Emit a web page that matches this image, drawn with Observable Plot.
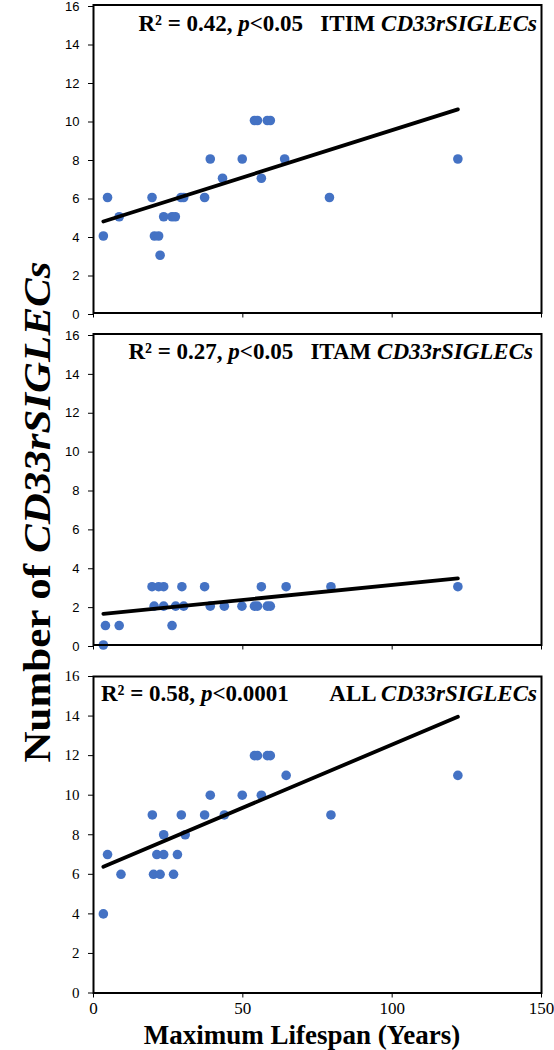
<!DOCTYPE html>
<html>
<head>
<meta charset="utf-8">
<script src="https://cdn.jsdelivr.net/npm/d3@7"></script>
<script src="https://cdn.jsdelivr.net/npm/@observablehq/plot@0.6"></script>
<style>
  html, body { margin: 0; padding: 0; background: #fff; }
  #wrap { position: relative; width: 554px; height: 1050px; overflow: hidden; }
  .panel { position: absolute; left: 0; }
  .ann { position: absolute; font-family: "Liberation Serif", "Times New Roman", serif; font-weight: bold;
         font-size: 23px; line-height: 1; white-space: pre; color: #000; }
  #ytitle { position: absolute; font-family: "Liberation Serif", serif; font-weight: bold; font-size: 43px;
            line-height: 1; white-space: pre; left: 37px; top: 512px; transform: translate(-50%, -50%) rotate(-90deg) scaleY(0.9); }
  #xtitle { position: absolute; font-family: "Liberation Serif", serif; font-weight: bold; font-size: 27px;
            line-height: 1; white-space: pre; left: 302px; top: 1035px; transform: translate(-50%, -50%); }
  svg line { stroke-width: 2; }
</style>
</head>
<body>
<div id="wrap"></div>
<script>
// ITIM CD33rSIGLECs
const itimLifespan = [3.3, 4.7, 8.6, 19.6, 20.4, 21.8, 22.3, 23.5, 26.3, 27.4, 29.3, 30.2, 37.2, 39.1, 43.2, 49.8, 53.9, 54.9, 56.2, 58.2, 59.2, 64.0, 79.0, 122.0];
const itimCount    = [4,   6,   5,   6,    4,    4,    3,    5,    5,    5,    6,    6,    6,    8,    7,    8,    10,   10,   7,    10,   10,   8,    6,    8];
// ITAM CD33rSIGLECs
const itamLifespan = [3.3, 4.0, 8.6, 19.6, 20.3, 21.8, 23.5, 23.5, 26.3, 27.5, 29.6, 30.2, 37.2, 39.1, 43.8, 49.7, 53.9, 54.9, 56.2, 58.2, 59.2, 64.5, 79.5, 122.0];
const itamCount    = [0,   1,   1,   3,    2,    3,    3,    2,    1,    2,    3,    2,    3,    2,    2,    2,    2,    2,    3,    2,    2,    3,    3,    3];
// ALL CD33rSIGLECs
const allLifespan = [3.3, 4.7, 9.2, 19.7, 20.1, 21.2, 22.3, 23.5, 23.5, 26.8, 28.1, 29.4, 30.7, 37.2, 39.1, 43.8, 49.8, 53.9, 54.9, 56.2, 58.2, 59.2, 64.5, 79.5, 122.0];
const allCount    = [4,   7,   6,   9,    6,    7,    6,    8,    7,    6,    7,    9,    8,    9,    10,   9,    10,   12,   12,   10,   12,   12,   11,   9,    11];

const xTicks = [0, 50, 100, 150];
const yTicks = [0, 2, 4, 6, 8, 10, 12, 14, 16];

const toRows = (xs, ys) => xs.map((x, i) => ({x, y: ys[i]}));

function panel({rows, top, marginTop, plotH, marginBottom, showX, yFont}) {
  const height = marginTop + plotH + marginBottom;
  const svg = Plot.plot({
    width: 554,
    height,
    marginLeft: 93,
    marginRight: 13,
    marginTop,
    marginBottom,
    style: {background: "white", color: "black", overflow: "visible"},
    x: {domain: [0, 150]},
    y: {domain: [0, 16]},
    marks: [
      Plot.axisY({ticks: yTicks, tickSize: 5, tickPadding: 9, label: null, stroke: "black",
                  fontSize: yFont.size, fontFamily: yFont.family, dy: yFont.dy || 0}),
      Plot.axisX({ticks: xTicks, tickSize: 5, tickPadding: 4, label: null, stroke: "black",
                  tickFormat: showX ? (d => String(d)) : (() => ""),
                  fontSize: 17, fontFamily: "Liberation Serif, serif"}),
      Plot.dot(rows, {x: "x", y: "y", r: 4.8, fill: "#4472C4", stroke: "none"}),
      Plot.linearRegressionY(rows, {x: "x", y: "y", ci: 0, stroke: "black", strokeWidth: 3.8}),
      Plot.frame({stroke: "black", strokeWidth: 2})
    ]
  });
  svg.classList.add("panel");
  svg.style.top = top + "px";
  // make sure tick label fonts are applied
  d3.select(svg).selectAll('g[aria-label="y-axis tick label"] text').style("font-family", yFont.family).style("font-size", yFont.size + "px");
  d3.select(svg).selectAll('g[aria-label="x-axis tick label"] text').style("font-family", "Liberation Serif, serif").style("font-size", "17px");
  document.getElementById("wrap").appendChild(svg);
}

const sans = {size: 13, family: "Liberation Sans, Arial, sans-serif", dy: 1.5};
panel({rows: toRows(itimLifespan, itimCount), top: 0, marginTop: 4.5, plotH: 308, marginBottom: 8, showX: false, yFont: sans});
panel({rows: toRows(itamLifespan, itamCount), top: 329, marginTop: 4.5, plotH: 311, marginBottom: 8, showX: false, yFont: sans});
panel({rows: toRows(allLifespan, allCount), top: 671, marginTop: 5, plotH: 316.5, marginBottom: 32, showX: true,
       yFont: {size: 15, family: "Liberation Serif, serif"}});

const wrap = document.getElementById("wrap");
function ann(html, pos) {
  const d = document.createElement("div");
  d.className = "ann";
  d.innerHTML = html;
  Object.assign(d.style, pos);
  wrap.appendChild(d);
}
ann("R² = 0.42, <i>p</i>&lt;0.05   ITIM <i>CD33rSIGLECs</i>", {right: "17px", top: "12px"});
ann("R² = 0.27, <i>p</i>&lt;0.05   ITAM <i>CD33rSIGLECs</i>", {right: "21px", top: "340px"});
ann("R² = 0.58, <i>p</i>&lt;0.0001", {left: "101px", top: "682px"});
ann("ALL <i>CD33rSIGLECs</i>", {right: "17px", top: "682px"});

const yt = document.createElement("div");
yt.id = "ytitle";
yt.innerHTML = "Number of <i>CD33rSIGLECs</i>";
wrap.appendChild(yt);

const xt = document.createElement("div");
xt.id = "xtitle";
xt.textContent = "Maximum Lifespan (Years)";
wrap.appendChild(xt);
</script>
</body>
</html>
